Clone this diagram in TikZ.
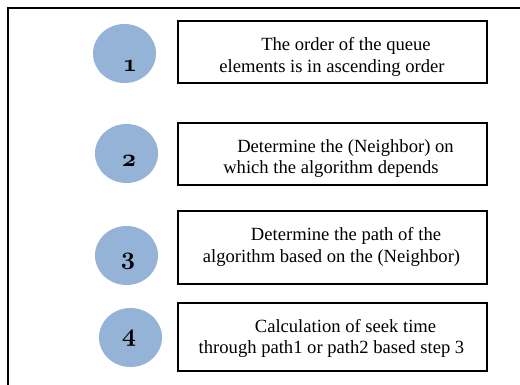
\documentclass[tikz,border=0pt]{standalone}
\usepackage{fontspec}
\newfontfamily\txtfont{Liberation Serif}
\usetikzlibrary{shapes.geometric}
\definecolor{circblue}{RGB}{149,179,215}
\newcommand{\osnum}[1]{{\boldmath$\mathnormal{#1}$}}
\tikzset{
  frame/.style={draw=black, line width=1.6pt},
  box/.style={draw=black, line width=1.7pt, rectangle, inner sep=0pt},
  circ/.style={ellipse, fill=circblue, draw=none, inner sep=0pt, minimum width=63pt, minimum height=59pt},
  num/.style={inner sep=0pt, font=\fontsize{24}{24}\selectfont},
  txt/.style={inner sep=0pt, anchor=base, font=\txtfont\fontsize{18.6}{22}\selectfont}
}
\begin{document}
\begin{tikzpicture}[x=1pt, y=-1pt]
\useasboundingbox (0,0) rectangle (520,384);
\fill[white] (0,0) rectangle (520,384);
\draw[frame] (8,386) -- (8,8) -- (522,8);
% circles
\node[circ] (c1) at (124.5,53.5) {};
\node[circ] (c2) at (126.5,153.5) {};
\node[circ] (c3) at (126.5,255.5) {};
\node[circ] (c4) at (130.5,337.5) {};
\node[num] (n1) at (130,66) {\osnum{1}};
\node[num] (n2) at (129,160.5) {\osnum{2}};
\node[num] (n3) at (128,261) {\osnum{3}};
\node[num] (n4) at (129,338.5) {\osnum{4}};
% boxes
\node[box, minimum width=309pt, minimum height=62pt] (b1) at (332.5,52) {};
\node[box, minimum width=309pt, minimum height=62pt] (b2) at (332.5,154) {};
\node[box, minimum width=309pt, minimum height=73pt] (b3) at (332.5,247.5) {};
\node[box, minimum width=309pt, minimum height=68pt] (b4) at (332.5,337) {};
% texts
\node[txt] (t1a) at (346,50) {The order of the queue};
\node[txt] (t1b) at (332,72) {elements is in ascending order};
\node[txt] (t2a) at (345.5,152) {Determine the (Neighbor) on};
\node[txt] (t2b) at (331,173) {which the algorithm depends};
\node[txt] (t3a) at (346,240) {Determine the path of the};
\node[txt] (t3b) at (331.5,262) {algorithm based on the (Neighbor)};
\node[txt] (t4a) at (345.5,332) {Calculation of seek time};
\node[txt] (t4b) at (331.5,353) {through path1 or path2 based step 3};
\end{tikzpicture}
\end{document}
